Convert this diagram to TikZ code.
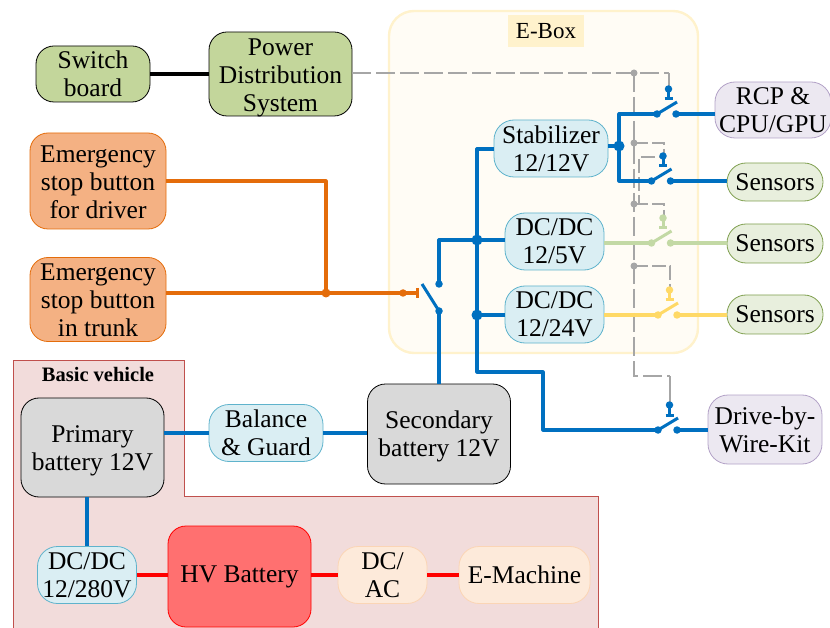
\documentclass[tikz,border=0pt]{standalone}
\usepackage{fontspec}
\setmainfont{Liberation Serif}
\definecolor{cblue}{HTML}{0070C0}
\definecolor{cgreen}{HTML}{C3D9A5}
\definecolor{cyel}{HTML}{FFD966}
\definecolor{cora}{HTML}{E46C0A}
\definecolor{cgray}{HTML}{A6A6A6}
\definecolor{ftgreen}{HTML}{C3D69B}
\definecolor{ftcyan}{HTML}{DAEEF3}
\definecolor{dcyan}{HTML}{5FB3CC}
\definecolor{ftorange}{HTML}{F4B183}
\definecolor{ftgray}{HTML}{D9D9D9}
\definecolor{ftpeach}{HTML}{FDEADA}
\definecolor{dpeach}{HTML}{FBD5B5}
\definecolor{ftviolet}{HTML}{ECE8F1}
\definecolor{dviolet}{HTML}{B3A2C7}
\definecolor{ftsensor}{HTML}{E8EFDD}
\definecolor{dsensor}{HTML}{7F9F4F}
\definecolor{ftebox}{HTML}{FFFCF5}
\definecolor{debox}{HTML}{FFF2CC}
\definecolor{ftbv}{HTML}{F2DCDB}
\definecolor{dbv}{HTML}{C0504D}
\definecolor{fthv}{HTML}{FF7070}
\tikzset{
  x=1pt,y=-1pt,
  box/.style={draw,line width=.8pt,align=center,inner sep=0pt,rounded corners=18pt,
    font=\fontsize{25.5}{28}\selectfont,text=black},
  green box/.style={box,fill=ftgreen,draw=black},
  orange box/.style={box,fill=ftorange,draw=cora},
  cyan box/.style={box,fill=ftcyan,draw=dcyan,rounded corners=20pt},
  gray box/.style={box,fill=ftgray,draw=black},
  peach box/.style={box,fill=ftpeach,draw=dpeach,rounded corners=20pt},
  violet box/.style={box,fill=ftviolet,draw=dviolet,rounded corners=20pt},
  sensor box/.style={box,fill=ftsensor,draw=dsensor,rounded corners=19pt},
  wire/.style={line width=3.2pt,line join=round},
  ctrl/.style={cgray,line width=2.4pt,dash pattern=on 19pt off 5pt},
  ctrlshort/.style={cgray,line width=2.4pt,dash pattern=on 14pt off 4pt},
  ctrls/.style={cgray,line width=2.4pt},
  dot/.style={circle,fill=#1,inner sep=0pt,minimum size=7.5pt},
  jdot/.style={circle,fill=#1,inner sep=0pt,minimum size=11pt},
  gdot/.style={circle,fill=cgray,inner sep=0pt,minimum size=7pt},
}
\newcommand{\dn}[2]{\raisebox{-#1}[\height][\depth]{\begin{tabular}{@{}c@{}}#2\end{tabular}}}
\newcommand{\swsym}[4]{%
  \coordinate (#1l) at (#2,#3);
  \coordinate (#1r) at (#2+19,#3);
  \coordinate (#1b) at (#2+11.5,#3-25);
  \draw[#4,line width=3pt] (#1l) -- (#2+20,#3-12);
  \draw[#4,line width=3pt] (#2+7.5,#3-15) -- (#2+15.5,#3-15);
  \draw[#4,line width=3pt] (#1b) -- (#2+11.5,#3-15);
  \node[dot=#4] at (#1l) {};
  \node[dot=#4] at (#1r) {};
  \node[dot=#4] at (#1b) {};
}
\begin{document}
\begin{tikzpicture}
\useasboundingbox (0,0) rectangle (830,628);
% backgrounds
\draw[fill=ftebox,draw=debox,line width=2.4pt,rounded corners=25pt] (389,11) rectangle (698,353);
\node[fill=debox,inner sep=0pt,minimum width=76pt,minimum height=32pt,font=\fontsize{23}{28}\selectfont] (ebox) at (546,31) {E-Box};
\draw[fill=ftbv,draw=dbv,line width=.7pt] (13,360) -- (184,360) -- (184,496) -- (598,496) -- (598,628) -- (13,628) -- cycle;
\node[font=\fontsize{20.5}{24}\selectfont\bfseries] (bv) at (98,374) {Basic vehicle};
% boxes
\node[green box,minimum width=114pt,minimum height=56pt] (sb) at (93,74) {Switch\\board};
\node[green box,minimum width=143pt,minimum height=81pt] (pd) at (280.5,74) {\dn{4pt}{Power\\Distribution\\System}};
\node[orange box,minimum width=136pt,minimum height=96pt] (e1) at (98,181) {\dn{4pt}{Emergency\\stop button\\for driver}};
\node[orange box,minimum width=136pt,minimum height=81pt] (e2) at (98,299.5) {\dn{3pt}{Emergency\\stop button\\in trunk}};
\node[gray box,minimum width=143pt,minimum height=99pt] (pb) at (92.5,447.5) {\dn{3pt}{Primary\\battery 12V}};
\node[cyan box,minimum width=114pt,minimum height=57pt] (bg) at (266,433) {Balance\\\& Guard};
\node[gray box,minimum width=143pt,minimum height=100pt] (sec) at (439,434) {\dn{3pt}{Secondary\\battery 12V}};
\node[cyan box,minimum width=99pt,minimum height=57pt] (dc280) at (87,575) {DC/DC\\12/280V};
\node[box,fill=fthv,draw=red,minimum width=143pt,minimum height=101pt] (hv) at (239.5,576.5) {HV Battery};
\node[peach box,minimum width=89pt,minimum height=57pt] (dcac) at (382.5,575) {DC/\\AC};
\node[peach box,minimum width=131pt,minimum height=57pt] (em) at (524.5,575) {E-Machine};
\node[cyan box,minimum width=114pt,minimum height=57pt] (st) at (551,148.5) {Stabilizer\\12/12V};
\node[cyan box,minimum width=99pt,minimum height=57pt] (d5) at (554.5,241.5) {DC/DC\\12/5V};
\node[cyan box,minimum width=99pt,minimum height=57pt] (d24) at (554.5,314.5) {DC/DC\\12/24V};
\node[violet box,minimum width=116pt,minimum height=56pt] (rcp) at (773,110) {RCP \&\\CPU/GPU};
\node[sensor box,minimum width=96pt,minimum height=38pt] (s1) at (775,182) {Sensors};
\node[sensor box,minimum width=96pt,minimum height=39pt] (s2) at (775,243.5) {Sensors};
\node[sensor box,minimum width=96pt,minimum height=39pt] (s3) at (775,314.5) {Sensors};
\node[violet box,minimum width=114pt,minimum height=69pt] (dw) at (765,429.5) {Drive-by-\\Wire-Kit};
% control lines (gray)
\coordinate (g1) at (634,73);
\coordinate (g2) at (634,143);
\coordinate (g3) at (634,204);
\coordinate (g4) at (634,266);
\coordinate (g5) at (634,376);
\draw[ctrl] (pd.east |- g1) -- (g1) -- (669,73);
\draw[ctrl] (g1) -- (g5) -- (670,376);
\draw[ctrls] (670,376) -- (670,405);
\draw[ctrls] (669,73) -- (669,88);
\draw[ctrlshort] (g2) -- (664,143) -- (664,153);
\draw[ctrlshort] (g3) -- (639,204) -- (639,157) -- (663,157);
\draw[ctrlshort] (g3) -- (664,204) -- (664,216);
\draw[ctrlshort] (g4) -- (670,266) -- (670,290);
\node[gdot] at (g1) {};
\node[gdot] at (g2) {};
\node[gdot] at (g3) {};
\node[gdot] at (g4) {};
% switches
\swsym{a}{657}{114}{cblue}
\swsym{b}{651.5}{181}{cblue}
\swsym{c}{651.5}{243}{cgreen}
\swsym{d}{658}{315}{cyel}
\swsym{e}{658}{430}{cblue}
% simple wires
\draw[line width=3.2pt] (sb.east) -- (pd.west);
\draw[wire,cblue] (pb.east |- bg.west) -- (bg.west);
\draw[wire,cblue] (bg.east) -- (sec.west |- bg.east);
\draw[wire,cblue] (dc280.north |- pb.south) -- (dc280.north);
\draw[wire,red] (dc280.east) -- (hv.west |- dc280.east);
\draw[wire,red] (hv.east |- dcac.west) -- (dcac.west);
\draw[wire,red] (dcac.east) -- (em.west);
% orange
\coordinate (om) at (326,293);
\coordinate (mt) at (417.5,293);
\draw[wire,cora] (e1.east) -| (om);
\draw[wire,cora] (e2.east |- om) -- (mt);
\draw[wire,cora] (417.5,288) -- (417.5,298);
\node[jdot=cora,minimum size=9pt] at (om) {};
\node[dot=cora] at (403,293) {};
% main switch
\coordinate (mu) at (439,284);
\coordinate (ml) at (439,311);
\draw[cblue,line width=3pt] (422,284) -- (ml);
\draw[wire,cblue] (sec.north) -- (ml);
\coordinate (jt) at (477,149);
\coordinate (j5) at (477,240);
\coordinate (j24) at (477,315);
\coordinate (jl) at (477,372);
\draw[wire,cblue] (mu) |- (j5) -- (d5.west |- j5);
\draw[wire,cblue] (st.west |- jt) -- (jt) -- (jl) -- (543,372) -- (543,430) -- (el);
\draw[wire,cblue] (j24) -- (d24.west |- j24);
\node[dot=cblue] at (mu) {};
\node[dot=cblue] at (ml) {};
\node[jdot=cblue] at (j5) {};
\node[jdot=cblue] at (j24) {};
% stabilizer outputs
\coordinate (js) at (619,146);
\draw[wire,cblue] (st.east |- js) -- (js);
\draw[wire,cblue] (al) -- (619,114) -- (619,181) -- (bl);
\node[jdot=cblue] at (js) {};
\draw[wire,cblue] (ar) -- (rcp.west |- ar);
\draw[wire,cblue] (br) -- (s1.west |- br);
\draw[wire,cgreen] (d5.east |- cl) -- (cl);
\draw[wire,cgreen] (cr) -- (s2.west |- cr);
\draw[wire,cyel] (d24.east |- dl) -- (dl);
\draw[wire,cyel] (dr) -- (s3.west |- dr);
\draw[wire,cblue] (er) -- (dw.west |- er);
\end{tikzpicture}
\end{document}
